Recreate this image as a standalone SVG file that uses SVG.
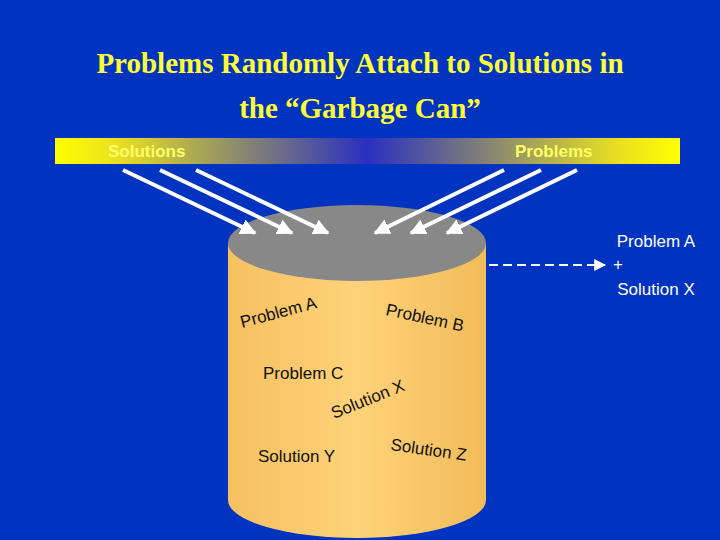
<svg xmlns="http://www.w3.org/2000/svg" width="720" height="540" viewBox="0 0 720 540">
<defs>
<linearGradient id="bar" x1="0" x2="1" y1="0" y2="0">
<stop offset="0" stop-color="#ffff00"/><stop offset="0.1" stop-color="#e8e020"/><stop offset="0.5" stop-color="#2a2fc0"/><stop offset="0.9" stop-color="#e8e020"/><stop offset="1" stop-color="#ffff00"/>
</linearGradient>
<linearGradient id="can" x1="0" x2="1" y1="0" y2="0">
<stop offset="0" stop-color="#f5c060"/><stop offset="0.5" stop-color="#ffd27a"/><stop offset="1" stop-color="#f2bc58"/>
</linearGradient>
<marker id="ah" viewBox="0 0 10 10" refX="9" refY="5" markerWidth="4" markerHeight="4" orient="auto"><path d="M0,0L10,5L0,10z" fill="#fff"/></marker>
<marker id="ah2" viewBox="0 0 10 10" refX="9" refY="5" markerWidth="6" markerHeight="6" orient="auto"><path d="M0,0L10,5L0,10z" fill="#fff"/></marker>
<style>
.t{font-family:"Liberation Serif",serif;font-weight:bold;font-size:29px;fill:#ffff33;text-anchor:middle}
.b{font-family:"Liberation Sans",sans-serif;font-weight:bold;font-size:17px;fill:#ffff66}
.w{font-family:"Liberation Sans",sans-serif;font-size:17px;fill:#fff;text-anchor:middle}
.k{font-family:"Liberation Sans",sans-serif;font-size:17px;fill:#111}
.a{stroke:#fff;stroke-width:4;fill:none;marker-end:url(#ah)}
</style>
</defs>
<rect width="720" height="540" fill="#0033c0"/>
<g id="title">
<text class="t" x="360" y="73">Problems Randomly Attach to Solutions in</text>
<text class="t" x="360" y="118">the “Garbage Can”</text>
</g>
<g id="bar">
<rect x="55" y="138" width="625" height="26" fill="url(#bar)"/>
<text class="b" x="108" y="157">Solutions</text>
<text class="b" x="515" y="157">Problems</text>
</g>
<g id="can">
<path d="M228,243 V500 A129,38 0 0 0 486,500 V243 Z" fill="url(#can)"/>
<ellipse cx="357" cy="243" rx="129" ry="38" fill="#888"/>
<text class="k" transform="translate(242,328) rotate(-15)">Problem A</text>
<text class="k" transform="translate(385,315) rotate(12)">Problem B</text>
<text class="k" x="263" y="379">Problem C</text>
<text class="k" transform="translate(334,419) rotate(-22)">Solution X</text>
<text class="k" x="258" y="462">Solution Y</text>
<text class="k" transform="translate(390,450) rotate(8)">Solution Z</text>
</g>
<g id="result">
<text class="w" x="656" y="247">Problem A</text>
<text class="w" x="618" y="270">+</text>
<text class="w" x="656" y="295">Solution X</text>
</g>
<g id="connectors">
<line class="a" x1="123" y1="170" x2="255" y2="233"/>
<line class="a" x1="160" y1="170" x2="292" y2="233"/>
<line class="a" x1="196" y1="170" x2="328" y2="233"/>
<line class="a" x1="504" y1="170" x2="375" y2="233"/>
<line class="a" x1="541" y1="170" x2="411" y2="233"/>
<line class="a" x1="577" y1="170" x2="447" y2="233"/>
<line x1="489" y1="265" x2="605" y2="265" stroke="#fff" stroke-width="2" stroke-dasharray="9,5" marker-end="url(#ah2)"/>
</g>
</svg>
